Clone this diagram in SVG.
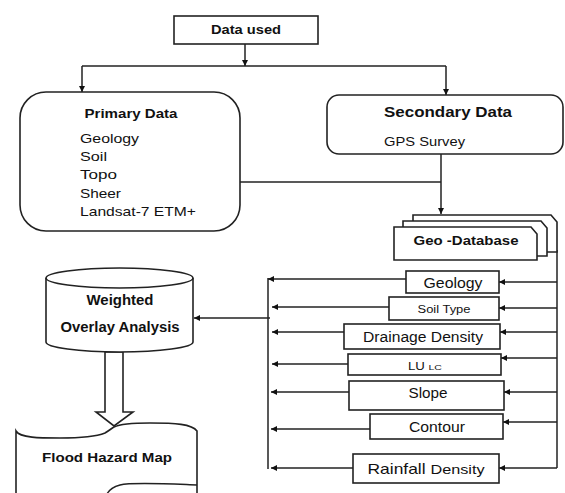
<svg xmlns="http://www.w3.org/2000/svg" width="565" height="493" viewBox="0 0 565 493">
<defs>
<style>
.box{fill:#fff;stroke:#222;stroke-width:1.6}
.ln{fill:none;stroke:#222;stroke-width:1.5}
.t{font-family:"Liberation Sans",Arial,sans-serif;fill:#111}
.b{font-weight:bold}
.c{text-anchor:middle}
</style>
<marker id="ah" viewBox="0 0 10 10" refX="10" refY="5" markerWidth="7" markerHeight="6" orient="auto" markerUnits="userSpaceOnUse"><path d="M0,0 L10,5 L0,10 z" fill="#111"/></marker>
</defs>
<rect width="565" height="493" fill="#fff"/>

<g id="connectors">
<line class="ln" x1="245" y1="44" x2="245" y2="66" marker-end="url(#ah)"/>
<polyline class="ln" points="82,66 446,66"/>
<line class="ln" x1="82" y1="66" x2="82" y2="92" marker-end="url(#ah)"/>
<line class="ln" x1="446" y1="66" x2="446" y2="95" marker-end="url(#ah)"/>
<line class="ln" x1="240" y1="182" x2="441" y2="182"/>
<line class="ln" x1="441" y1="154" x2="441" y2="214" marker-end="url(#ah)"/>
<line class="ln" x1="557" y1="250" x2="557" y2="468"/>
<line class="ln" x1="557" y1="282" x2="499" y2="282" marker-end="url(#ah)"/>
<line class="ln" x1="557" y1="308" x2="499" y2="308" marker-end="url(#ah)"/>
<line class="ln" x1="557" y1="332" x2="500" y2="332" marker-end="url(#ah)"/>
<line class="ln" x1="557" y1="358" x2="501" y2="358" marker-end="url(#ah)"/>
<line class="ln" x1="557" y1="392" x2="504" y2="392" marker-end="url(#ah)"/>
<line class="ln" x1="557" y1="422" x2="503" y2="422" marker-end="url(#ah)"/>
<line class="ln" x1="557" y1="468" x2="499" y2="468" marker-end="url(#ah)"/>
<line class="ln" x1="268" y1="278" x2="268" y2="469"/>
<line class="ln" x1="406" y1="279" x2="268" y2="279" marker-end="url(#ah)"/>
<line class="ln" x1="389" y1="307" x2="272" y2="307" marker-end="url(#ah)"/>
<line class="ln" x1="344" y1="332" x2="272" y2="332" marker-end="url(#ah)"/>
<line class="ln" x1="348" y1="364" x2="272" y2="364" marker-end="url(#ah)"/>
<line class="ln" x1="349" y1="392" x2="271" y2="392" marker-end="url(#ah)"/>
<line class="ln" x1="370" y1="429" x2="271" y2="429" marker-end="url(#ah)"/>
<line class="ln" x1="353" y1="468" x2="271" y2="468" marker-end="url(#ah)"/>
<line class="ln" x1="270" y1="318" x2="194" y2="318" marker-end="url(#ah)"/>
<polygon class="box" points="105,352 123,352 123,412 133,412 114,426 96,412 105,412"/>
</g>

<g id="data-used">
<rect class="box" x="174" y="16" width="144" height="28"/>
<text class="t b c" x="246" y="34" font-size="13" textLength="70" lengthAdjust="spacingAndGlyphs">Data used</text>
</g>

<g id="primary-data">
<rect class="box" x="20" y="92" width="220" height="139" rx="26"/>
<text class="t b c" x="131" y="118" font-size="13" textLength="93" lengthAdjust="spacingAndGlyphs">Primary Data</text>
<text class="t" x="80" y="143" font-size="13" textLength="59" lengthAdjust="spacingAndGlyphs">Geology</text>
<text class="t" x="80" y="161" font-size="13" textLength="27" lengthAdjust="spacingAndGlyphs">Soil</text>
<text class="t" x="80" y="179" font-size="13" textLength="37" lengthAdjust="spacingAndGlyphs">Topo</text>
<text class="t" x="80" y="198" font-size="13" textLength="41" lengthAdjust="spacingAndGlyphs">Sheer</text>
<text class="t" x="80" y="216" font-size="13" textLength="116" lengthAdjust="spacingAndGlyphs">Landsat-7 ETM+</text>
</g>

<g id="secondary-data">
<rect class="box" x="327" y="95" width="236" height="59" rx="12"/>
<text class="t b c" x="448" y="117" font-size="15" textLength="128" lengthAdjust="spacingAndGlyphs">Secondary Data</text>
<text class="t" x="384" y="146" font-size="12.5" textLength="81" lengthAdjust="spacingAndGlyphs">GPS Survey</text>
</g>

<g id="geo-database">
<path class="box" d="M413,252 V215 H551 L557,222 V252 Z"/>
<path class="box" d="M403,256 V221 H541 L547,228 V256 Z"/>
<path class="box" d="M394,260 V227 H531 L537,234 V260 Z"/>
<text class="t b c" x="466" y="245" font-size="13.5" textLength="105" lengthAdjust="spacingAndGlyphs">Geo -Database</text>
</g>

<g id="geology">
<rect class="box" x="406" y="271" width="93" height="22"/>
<text class="t c" x="453" y="288" font-size="14" textLength="59" lengthAdjust="spacingAndGlyphs">Geology</text>
</g>
<g id="soil-type">
<rect class="box" x="389" y="297" width="110" height="23"/>
<text class="t c" x="444" y="313" font-size="10" textLength="53" lengthAdjust="spacingAndGlyphs">Soil Type</text>
</g>
<g id="drainage-density">
<rect class="box" x="344" y="324" width="156" height="25"/>
<text class="t c" x="423" y="342" font-size="14" textLength="120" lengthAdjust="spacingAndGlyphs">Drainage Density</text>
</g>
<g id="lulc">
<rect class="box" x="348" y="354" width="153" height="21"/>
<text class="t c" x="425" y="370" font-size="10" textLength="34" lengthAdjust="spacingAndGlyphs">LU <tspan font-size="8">LC</tspan></text>
</g>
<g id="slope">
<rect class="box" x="349" y="381" width="155" height="29"/>
<text class="t c" x="428" y="398" font-size="14" textLength="39" lengthAdjust="spacingAndGlyphs">Slope</text>
</g>
<g id="contour">
<rect class="box" x="370" y="414" width="133" height="25"/>
<text class="t c" x="437" y="432" font-size="14" textLength="56" lengthAdjust="spacingAndGlyphs">Contour</text>
</g>
<g id="rainfall-density">
<rect class="box" x="353" y="454" width="146" height="29"/>
<text class="t c" x="426" y="474" font-size="14.5" textLength="117" lengthAdjust="spacingAndGlyphs">Rainfall <tspan font-size="13.5">Density</tspan></text>
</g>

<g id="weighted-overlay">
<path class="box" d="M46,278 A73.5,10 0 0 1 193,278 V342 A73.5,10 0 0 1 46,342 Z"/>
<path class="ln" d="M46,278 A73.5,10 0 0 0 193,278"/>
<text class="t b c" x="120" y="305" font-size="14" textLength="67" lengthAdjust="spacingAndGlyphs">Weighted</text>
<text class="t b c" x="120" y="332" font-size="14" textLength="119" lengthAdjust="spacingAndGlyphs">Overlay Analysis</text>
</g>

<g id="flood-hazard-map">
<path class="box" d="M16,500 V431 C20,438 40,438 60,438 C80,438 95,437 105,433 C110,430 112,428 114,427 C120,424 130,423 150,423 C175,423 192,424 197,431 V500"/>
<path class="ln" d="M197,485 C170,484 132,482 120,485 C113,487 109,490 107,494"/>
<text class="t b c" x="107" y="462" font-size="13" textLength="130" lengthAdjust="spacingAndGlyphs">Flood Hazard Map</text>
</g>
</svg>
